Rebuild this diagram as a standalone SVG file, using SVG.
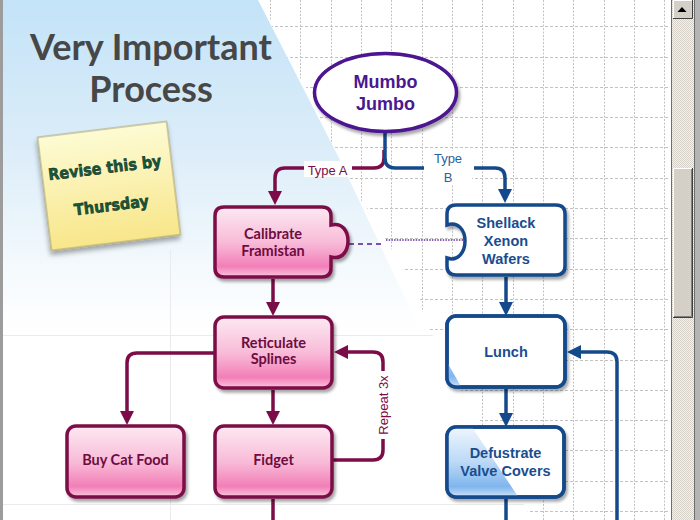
<svg xmlns="http://www.w3.org/2000/svg" width="700" height="520" viewBox="0 0 700 520">
<defs>
<style>
.gh{stroke:#c2c2c2;stroke-width:1;stroke-dasharray:3 2;fill:none}
.gv{stroke:#c2c2c2;stroke-width:1;stroke-dasharray:2 1.5;fill:none}
.faint{stroke:#ebebeb;stroke-width:1;fill:none}
.pnode{fill:url(#pinkG);stroke:#7b0c47;stroke-width:3.5;filter:url(#sh)}
.bnode{fill:#ffffff;stroke:#144a8b;stroke-width:3.5;filter:url(#sh)}
.bedge{fill:none;stroke:#144a8b;stroke-width:3.5}
.ptxt{font-family:Lato,"Liberation Sans",sans-serif;font-weight:bold;font-size:14.5px;fill:#6e0b40;text-anchor:middle}
.btxt{font-family:"Liberation Sans",Arial,sans-serif;font-weight:bold;font-size:14.5px;fill:#1a4d8f;text-anchor:middle}
.pline{fill:none;stroke:#7b0c47;stroke-width:3.5}
.bline{fill:none;stroke:#144a8b;stroke-width:3.5}
.lbl{font-family:"Liberation Sans",Arial,sans-serif;font-size:13px;text-anchor:middle}
.title{font-family:Lato,"Open Sans","Liberation Sans",sans-serif;font-weight:bold;font-size:36px;fill:#474747;text-anchor:middle}
.note{font-family:"DejaVu Sans Condensed","DejaVu Sans",sans-serif;font-weight:bold;font-size:16px;fill:#155a3c;stroke:#0a2a1a;stroke-width:0.5;text-anchor:middle}
</style>
<linearGradient id="pinkG" x1="0" y1="0" x2="0" y2="1">
<stop offset="0" stop-color="#fde9f2"/>
<stop offset="0.5" stop-color="#f8bcd8"/>
<stop offset="0.85" stop-color="#f27fb8"/>
<stop offset="0.93" stop-color="#f7a4cc"/>
<stop offset="1" stop-color="#f9c8de"/>
</linearGradient>
<linearGradient id="blueG" x1="0" y1="0" x2="0" y2="1">
<stop offset="0" stop-color="#eef6fe"/>
<stop offset="0.5" stop-color="#bcd9f6"/>
<stop offset="0.85" stop-color="#80b6ee"/>
<stop offset="0.93" stop-color="#a6ccf3"/>
<stop offset="1" stop-color="#d7e8fa"/>
</linearGradient>
<linearGradient id="skyG" gradientUnits="userSpaceOnUse" x1="0" y1="0" x2="0" y2="330">
<stop offset="0" stop-color="#c3e3f8"/>
<stop offset="0.45" stop-color="#dcedf9"/>
<stop offset="0.8" stop-color="#f3f9fd"/>
<stop offset="1" stop-color="#ffffff"/>
</linearGradient>
<linearGradient id="noteG" x1="0" y1="0" x2="0" y2="1">
<stop offset="0" stop-color="#fdfbd4"/>
<stop offset="1" stop-color="#f8e68a"/>
</linearGradient>
<pattern id="track" width="2" height="2" patternUnits="userSpaceOnUse">
<rect width="2" height="2" fill="#f4f3f0"/>
<rect width="1" height="1" fill="#d4d0c8"/>
<rect x="1" y="1" width="1" height="1" fill="#d4d0c8"/>
</pattern>
<filter id="sh" x="-10%" y="-10%" width="130%" height="140%">
<feDropShadow dx="2" dy="3" stdDeviation="1.5" flood-color="#000" flood-opacity="0.35"/>
</filter>
<filter id="nsh" x="-15%" y="-15%" width="130%" height="140%">
<feDropShadow dx="-1" dy="4" stdDeviation="2.5" flood-color="#000" flood-opacity="0.35"/>
</filter>
<marker id="ap" markerUnits="userSpaceOnUse" markerWidth="15" markerHeight="15" refX="0" refY="7" orient="auto" overflow="visible">
<path d="M0,0 L14,7 L0,14 Z" fill="#7b0c47"/>
</marker>
<marker id="ab" markerUnits="userSpaceOnUse" markerWidth="15" markerHeight="15" refX="0" refY="7" orient="auto" overflow="visible">
<path d="M0,0 L14,7 L0,14 Z" fill="#144a8b"/>
</marker>
<clipPath id="maskClip">
<polygon points="0,0 266,0 272,27 287,57 306,87 327,147 343,177 367,208 398,260 418,300 430,330 455,380 480,421 528,512 532,520 0,520"/>
</clipPath>
<clipPath id="blueRegion">
<polygon points="0,300 420,300 447,362 463,390 472,427 517,495 530,520 0,520"/>
</clipPath>
<clipPath id="clipLunch"><rect x="447" y="316" width="118" height="71" rx="9"/></clipPath>
<clipPath id="clipDef"><rect x="447" y="427" width="117" height="70" rx="9"/></clipPath>
</defs>

<rect width="700" height="520" fill="#ffffff"/>

<g id="grid">
<path class="gv" d="M270.5,0V520M300.5,0V520M331.5,0V520M361.5,0V520M391.5,0V520M422.5,0V520M452.5,0V520M482.5,0V520M513.5,0V520M543.5,0V520M573.5,0V520M604.5,0V520M634.5,0V520M664.5,0V520"/>
<path class="gh" d="M0,26.5H668M0,57.5H668M0,87.5H668M0,117.5H668M0,147.5H668M0,178.5H668M0,208.5H668M0,238.5H668M0,269.5H668M0,299.5H668M0,329.5H668M0,360.5H668M0,390.5H668M0,420.5H668M0,450.5H668M0,481.5H668M0,511.5H668"/>
</g>

<g id="backdrop">
<polygon points="0,0 266,0 272,27 287,57 306,87 327,147 343,177 367,208 398,260 418,300 430,330 455,380 480,421 528,512 532,520 0,520" fill="#ffffff"/>
<polygon points="0,0 258,0 340,160 420,330 0,330" fill="url(#skyG)"/>
<g clip-path="url(#maskClip)">
<path class="faint" d="M170.5,250V520M0,335.5H480M0,504.5H530"/>
</g>
<rect x="0" y="0" width="3" height="520" fill="#9c9c9c"/>
</g>

<g id="title">
<text class="title" x="151" y="60">Very Important</text>
<text class="title" x="151" y="102">Process</text>
</g>

<g id="sticky-note" transform="rotate(-7 109 186)">
<rect x="44" y="129" width="130" height="114" fill="url(#noteG)" stroke="#a89f6a" stroke-width="1" filter="url(#nsh)"/>
<text class="note" x="107" y="173">Revise this by</text>
<text class="note" x="109" y="211">Thursday</text>
</g>

<g id="connectors">
<path class="pline" d="M384,150 V158 Q384,168 374,168 H352"/>
<path class="pline" d="M304,168 H285 Q275,168 275,178 V191" marker-end="url(#ap)"/>
<path class="bline" d="M385,133 V158 Q385,168 395,168 H424"/>
<path class="bline" d="M474,168 H495 Q505,168 505,178 V189" marker-end="url(#ab)"/>
<rect x="304" y="161" width="47" height="16" fill="#ffffff"/>
<text class="lbl" x="327.5" y="174.5" fill="#7b0c47">Type A</text>
<rect x="425" y="151" width="47" height="33" fill="#ffffff"/>
<text class="lbl" x="448" y="163" fill="#2c5f9e" font-size="14">Type</text>
<text class="lbl" x="448" y="182" fill="#2c5f9e" font-size="14">B</text>
<path d="M349,244 H384" fill="none" stroke="#5a1a90" stroke-width="1.6" stroke-dasharray="5 4"/>
<path d="M386,240 H463" fill="none" stroke="#8a64b8" stroke-width="2" stroke-dasharray="1.5 1.2"/>
<path class="pline" d="M273,279 V302" marker-end="url(#ap)"/>
<path class="pline" d="M273,390 V411" marker-end="url(#ap)"/>
<path class="pline" d="M215,353 H137 Q127,353 127,363 V411" marker-end="url(#ap)"/>
<path class="pline" d="M333,460 H373 Q383,460 383,450 V362 Q383,352 373,352 H348" marker-end="url(#ap)"/>
<rect x="375" y="371" width="16" height="68" fill="#ffffff"/>
<text class="lbl" x="383" y="409.5" fill="#7b0c47" font-size="13.5" transform="rotate(-90 383 405)">Repeat 3x</text>
<path class="pline" d="M273,499 V520"/>
<path class="bline" d="M506,277 V302" marker-end="url(#ab)"/>
<path class="bline" d="M506,389 V413" marker-end="url(#ab)"/>
<path class="bline" d="M506,499 V520"/>
<path class="bline" d="M617,520 V362 Q617,352 607,352 H581" marker-end="url(#ab)"/>
</g>

<g id="mumbo-jumbo">
<ellipse cx="385.5" cy="92.5" rx="71" ry="39" fill="#ffffff" stroke="#4b1390" stroke-width="3.5" filter="url(#sh)"/>
<text x="385.5" y="87.5" font-family="'Liberation Sans',Arial,sans-serif" font-weight="bold" font-size="18" fill="#4a1890" text-anchor="middle">Mumbo</text>
<text x="385.5" y="109.5" font-family="'Liberation Sans',Arial,sans-serif" font-weight="bold" font-size="18" fill="#4a1890" text-anchor="middle">Jumbo</text>
</g>

<g id="calibrate-framistan">
<path class="pnode" d="M224,207 H322 Q331,207 331,216 V225 C343,222 348,232 348,241 C348,250 343,260 331,257 V268 Q331,277 322,277 H224 Q215,277 215,268 V216 Q215,207 224,207 Z"/>
<text class="ptxt" x="273" y="239">Calibrate</text>
<text class="ptxt" x="273" y="256">Framistan</text>
</g>

<g id="shellack-xenon-wafers">
<path class="bnode" d="M456,205 H556 Q565,205 565,214 V266 Q565,275 556,275 H456 Q447,275 447,266 V258 C458,262 465,252 465,241 C465,230 458,221 447,225 V214 Q447,205 456,205 Z"/>
<text class="btxt" x="506" y="227.5">Shellack</text>
<text class="btxt" x="506" y="245.5">Xenon</text>
<text class="btxt" x="506" y="263.5">Wafers</text>
</g>

<g id="reticulate-splines">
<rect class="pnode" x="215" y="317" width="117" height="71" rx="9"/>
<text class="ptxt" x="273.5" y="348">Reticulate</text>
<text class="ptxt" x="273.5" y="364">Splines</text>
</g>

<g id="lunch">
<rect class="bnode" x="447" y="316" width="118" height="71" rx="9"/>
<g clip-path="url(#clipLunch)"><rect x="447" y="316" width="118" height="71" fill="url(#blueG)" clip-path="url(#blueRegion)"/></g>
<rect class="bedge" x="447" y="316" width="118" height="71" rx="9"/>
<text class="btxt" x="506" y="356.5">Lunch</text>
</g>

<g id="buy-cat-food">
<rect class="pnode" x="67" y="426" width="117" height="71" rx="9"/>
<text class="ptxt" x="125.5" y="465">Buy Cat Food</text>
</g>

<g id="fidget">
<rect class="pnode" x="215" y="426" width="117" height="71" rx="9"/>
<text class="ptxt" x="273.5" y="465">Fidget</text>
</g>

<g id="defustrate-valve-covers">
<rect class="bnode" x="447" y="427" width="117" height="70" rx="9"/>
<g clip-path="url(#clipDef)"><rect x="447" y="427" width="117" height="70" fill="url(#blueG)" clip-path="url(#blueRegion)"/></g>
<rect class="bedge" x="447" y="427" width="117" height="70" rx="9"/>
<text class="btxt" x="505.5" y="458">Defustrate</text>
<text class="btxt" x="505.5" y="475.5">Valve Covers</text>
</g>

<g id="scrollbar">
<rect x="671" y="0" width="29" height="520" fill="url(#track)"/>
<rect x="694" y="0" width="6" height="520" fill="#b4b4b4"/>
<path d="M671.5,0V520M694.5,0V520" stroke="#6e6e6e" stroke-width="1" fill="none"/>
<rect x="673" y="0" width="20" height="19" fill="#d4d0c8"/>
<path d="M673.5,19V0.5H692" stroke="#ffffff" stroke-width="1" fill="none"/>
<path d="M673,18.5H692.5V0" stroke="#404040" stroke-width="1" fill="none"/>
<polygon points="677.5,12 686.5,12 682,7" fill="#000000"/>
<rect x="673" y="168" width="20" height="150" fill="#d4d0c8"/>
<path d="M673.5,317.5V168.5H692" stroke="#ffffff" stroke-width="1" fill="none"/>
<path d="M673,317.5H692.5V168" stroke="#404040" stroke-width="1" fill="none"/>
<path d="M674,316.5H691.5V169" stroke="#808080" stroke-width="1" fill="none"/>
</g>
</svg>
